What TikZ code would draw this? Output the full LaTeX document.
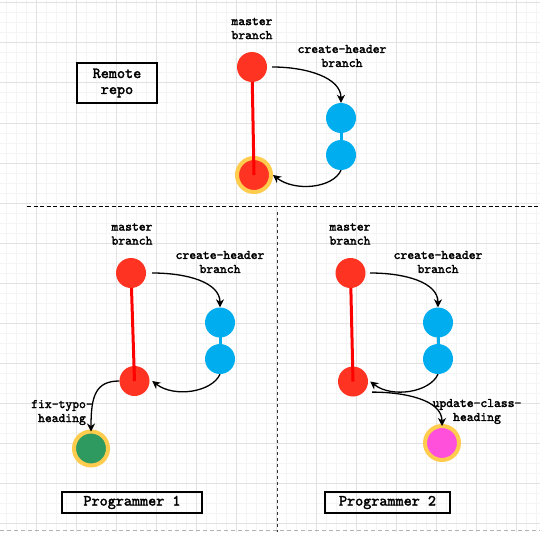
\documentclass[tikz,border=0pt]{standalone}
\usepackage{fontspec}
\newfontfamily\courb{lmmono10-regular.otf}[FakeBold=2.2]
\usetikzlibrary{arrows.meta}
\definecolor{cred}{RGB}{255,51,34}
\definecolor{cline}{RGB}{255,0,0}
\definecolor{cblue}{RGB}{0,174,239}
\definecolor{cyellow}{RGB}{255,204,77}
\definecolor{cgreen}{RGB}{46,154,95}
\definecolor{cpink}{RGB}{255,80,220}
\definecolor{gminor}{RGB}{244,244,244}
\definecolor{gmajor}{RGB}{226,226,226}
\begin{document}
\begin{tikzpicture}[x=1pt,y=-1pt,
  commit/.style={circle,inner sep=0pt,minimum size=30pt},
  redc/.style={commit,fill=cred},
  bluec/.style={commit,fill=cblue},
  ringc/.style={circle,inner sep=0pt,minimum size=34pt,draw=cyellow,line width=4pt},
  lab/.style={align=center,font=\courb\fontsize{13}{14}\selectfont,inner sep=0pt},
  boxn/.style={draw=black,line width=1.3pt,align=center,font=\courb\fontsize{15.4}{16}\selectfont,inner sep=0pt},
  arr/.style={line width=1.3pt,-{Stealth[length=8pt,width=8pt,inset=2.5pt]}},
  redline/.style={cline,line width=3pt},
  blueline/.style={cblue,line width=3pt},
  divider/.style={black,line width=1pt,dash pattern=on 4pt off 2.5pt}
]
\useasboundingbox (0,0) rectangle (540,532);
\fill[white] (0,0) rectangle (540,532);
% grid
\foreach \x in {6,16,...,536} \draw[gminor,line width=1pt] (\x,0) -- (\x,532);
\foreach \y in {3,13,...,523} \draw[gminor,line width=1pt] (0,\y) -- (540,\y);
\foreach \x in {36,76,...,516} \draw[gmajor,line width=1pt] (\x,0) -- (\x,532);
\foreach \y in {3,43,...,523} \draw[gmajor,line width=1pt] (0,\y) -- (540,\y);

% dividers
\coordinate (hl) at (27,206.5);
\coordinate (hr) at (540,206.5);
\coordinate (vt) at (277.5,212);
\coordinate (vb) at (277.5,532);
\coordinate (bl) at (0,530.5);
\coordinate (br) at (540,530.5);
\draw[divider] (hl) -- (hr);
\draw[black!80,line width=1.3pt,dash pattern=on 3pt off 3pt] (vt) -- (vb);
\draw[black!30,line width=1pt,dash pattern=on 4pt off 3pt] (bl) -- (br);

% ---------------- Remote repo ----------------
\node[boxn,minimum width=80pt,minimum height=40pt] (rbox) at (117,83) {Remote\\repo};
\node[lab] (rmlab) at (252,28.5) {master\\branch};
\node[lab] (rclab) at (342,56) {create-header\\branch};
\draw[blueline] (341,118) -- (341,155);
\node[redc] (rm1) at (252,67) {};
\node[bluec] (rb1) at (341,118) {};
\node[bluec] (rb2) at (341,155) {};
\node[ringc,fill=cred] (rm2) at (254,175) {};
\draw[redline,shorten <=15pt] (rm1.center) -- (rm2.center);
\draw[arr] ([xshift=5pt]rm1.east) .. controls +(35,0) and +(0,-25) .. (rb1.north);
\draw[arr] (rb2.south) .. controls +(-8,18) and +(22,17) .. (rm2.east);

% ---------------- Programmer 1 ----------------
\node[lab] (pmlab) at (132,234) {master\\branch};
\node[lab] (pclab) at (220,262) {create-header\\branch};
\node[lab] (pflab) at (62,412.5) {fix-typo-\\heading};
\draw[blueline] (220,322.5) -- (220,359);
\node[redc] (pm1) at (131,273) {};
\node[bluec] (pb1) at (220,322.5) {};
\node[bluec] (pb2) at (220,359) {};
\node[redc] (pm2) at (134.5,381) {};
\node[ringc,fill=cgreen] (pg) at (91,448.5) {};
\draw[redline,shorten <=15pt] (pm1.center) -- (pm2.center);
\draw[arr] ([xshift=6pt]pm1.east) .. controls +(35,0) and +(0,-25) .. (pb1.north);
\draw[arr] (pb2.south) .. controls +(-8,18) and +(22,17) .. ([xshift=2.5pt]pm2.east);
\draw[arr] (pm2.west) .. controls +(-24,0) and +(0,-35) .. ([yshift=-2pt]pg.north);
\node[boxn,minimum width=140pt,minimum height=21pt] (pbox) at (132,502.5) {Programmer 1};

% ---------------- Programmer 2 ----------------
\node[lab] (qmlab) at (350,234) {master\\branch};
\node[lab] (qclab) at (438,262) {create-header\\branch};
\node[lab] (qulab) at (477,411.5) {update-class-\\heading};
\draw[blueline] (438,322.5) -- (438,359);
\node[redc] (qm1) at (350.5,273) {};
\node[bluec] (qb1) at (438,322.5) {};
\node[bluec] (qb2) at (438,359) {};
\node[redc] (qm2) at (353,381.5) {};
\node[ringc,fill=cpink] (qp) at (442,443) {};
\draw[redline,shorten <=15pt] (qm1.center) -- (qm2.center);
\draw[arr] ([xshift=4.5pt]qm1.east) .. controls +(35,0) and +(0,-25) .. (qb1.north);
\draw[arr] (qb2.south) .. controls +(-8,18) and +(22,17) .. ([xshift=2pt]qm2.east);
\draw[arr] ([xshift=6pt,yshift=-3pt]qm2.-30) .. controls +(33,0) and +(0,-26) .. ([yshift=-2pt]qp.north);
\node[boxn,minimum width=125pt,minimum height=21pt] (qbox) at (387.5,502.5) {Programmer 2};
\end{tikzpicture}
\end{document}
